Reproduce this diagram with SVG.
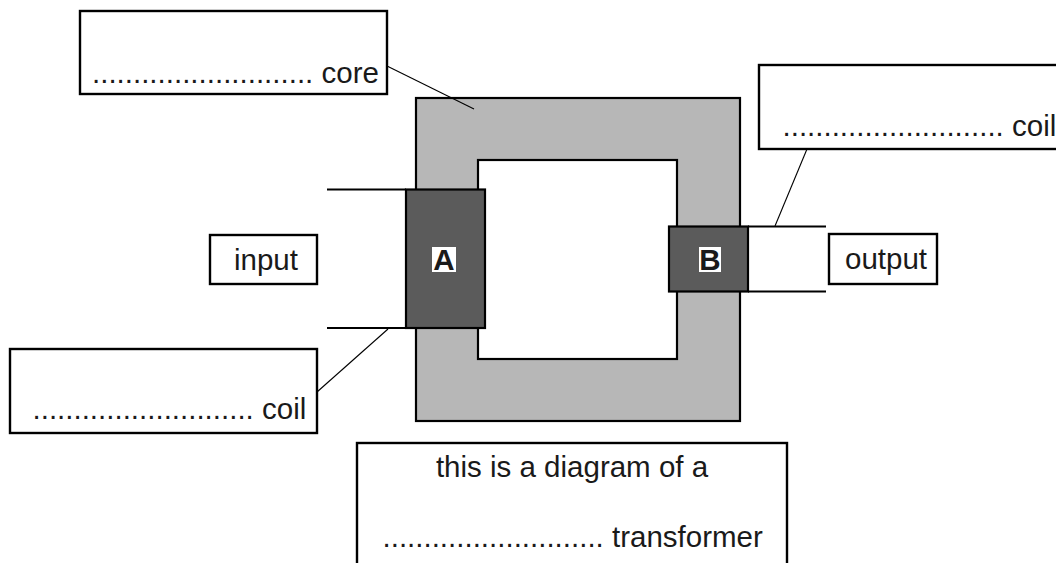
<svg xmlns="http://www.w3.org/2000/svg" width="1056" height="563" viewBox="0 0 1056 563">
<style>
.box{fill:#fff;stroke:#000;stroke-width:2.4}
.t{font-family:"Liberation Sans",Arial,sans-serif;font-size:29.5px;fill:#1a1a1a}
.lbl{font-family:"Liberation Sans",Arial,sans-serif;font-size:29.5px;font-weight:bold;fill:#1a1a1a;text-anchor:middle}
.lead{stroke:#000;stroke-width:2.2;fill:none}
.thin{stroke:#000;stroke-width:1.1;fill:none}
.coil{fill:#5b5b5b;stroke:#000;stroke-width:2.2}
</style>
<rect width="1056" height="563" fill="#fff"/>
<g id="core">
<rect x="416" y="98" width="324" height="323" fill="#b7b7b7" stroke="#000" stroke-width="2.2"/>
<rect x="478" y="160" width="199" height="199" fill="#fff" stroke="#000" stroke-width="2.2"/>
</g>
<g id="connectors">
<line class="lead" x1="327" y1="189.5" x2="406" y2="189.5"/>
<line class="lead" x1="327" y1="328" x2="406" y2="328"/>
<line class="lead" x1="748" y1="226.5" x2="826" y2="226.5"/>
<line class="lead" x1="748" y1="291.5" x2="826" y2="291.5"/>
<line class="thin" x1="387" y1="66" x2="474" y2="109"/>
<line class="thin" x1="317" y1="392" x2="388" y2="329"/>
<line class="thin" x1="807" y1="149" x2="775" y2="226"/>
</g>
<g id="coilA">
<rect class="coil" x="406" y="189.5" width="79" height="138.5"/>
<rect x="432" y="247" width="24" height="25" fill="#fff"/>
<text class="lbl" x="444" y="270">A</text>
</g>
<g id="coilB">
<rect class="coil" x="669" y="226.5" width="79" height="65"/>
<rect x="699" y="247" width="22" height="25" fill="#fff"/>
<text class="lbl" x="710" y="270">B</text>
</g>
<g id="coreLabel">
<rect class="box" x="80" y="11" width="307" height="83"/>
<text class="t" x="92" y="83">........................... core</text>
</g>
<g id="outCoilLabel">
<rect class="box" x="759" y="65" width="310" height="84"/>
<text class="t" x="782.5" y="136">........................... coil</text>
</g>
<g id="inCoilLabel">
<rect class="box" x="10" y="349" width="307" height="84"/>
<text class="t" x="32.5" y="419">........................... coil</text>
</g>
<g id="input">
<rect class="box" x="210" y="235" width="107" height="49"/>
<text class="t" x="234" y="270">input</text>
</g>
<g id="output">
<rect class="box" x="829" y="234" width="108" height="50"/>
<text class="t" x="845" y="269">output</text>
</g>
<g id="caption">
<rect class="box" x="357" y="443" width="430" height="130"/>
<text class="t" x="572" y="477" text-anchor="middle">this is a diagram of a</text>
<text class="t" x="382.5" y="547">........................... transformer</text>
</g>
</svg>
